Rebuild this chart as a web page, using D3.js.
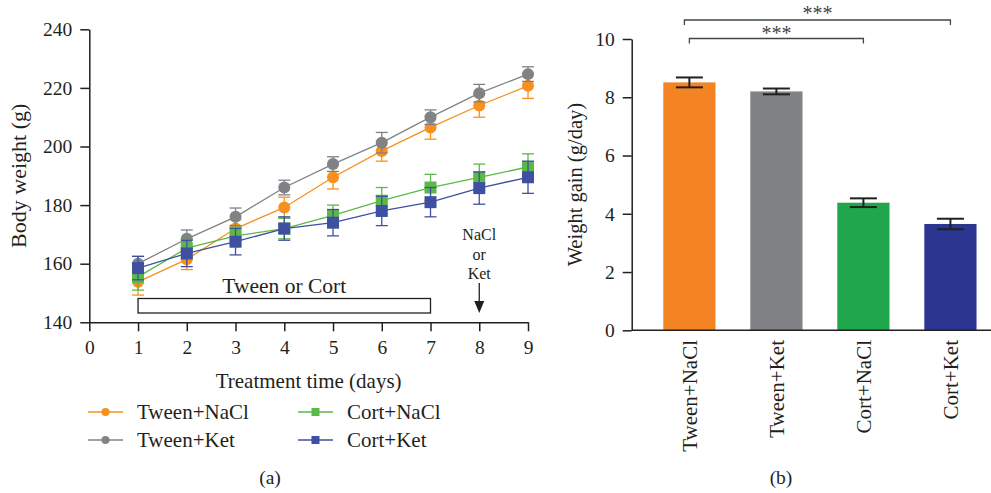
<!DOCTYPE html>
<html>
<head>
  <meta charset="UTF-8">
  <script src="https://d3js.org/d3.v7.js"></script>
  <style>
    body { margin: 0; background: #fff; }
    text { font-family: "Liberation Serif", "DejaVu Serif", serif; fill: #231f20; }
  </style>
</head>
<body>
  <div id="chart"></div>
  <script>
    // data - panel (a)
    const days = [1, 2, 3, 4, 5, 6, 7, 8, 9];
    const tweenNaCl = [153.8, 161.5, 172, 179.2, 189.5, 198.5, 206.5, 214, 220.7];
    const tweenNaClErr = [4.5, 3.5, 3, 3.5, 4, 3.5, 4, 4, 4.3];
    const tweenKet = [160, 168.5, 176, 186, 194, 201.3, 210, 218.2, 224.7];
    const tweenKetErr = [2.5, 3, 3, 2.5, 2.5, 3.5, 2.5, 3, 2.5];
    const cortNaCl = [155.5, 165.3, 169.5, 172, 176.5, 181.5, 186, 189.5, 193];
    const cortNaClErr = [4.5, 3, 3, 3.5, 3.5, 4.5, 4.5, 4.5, 4.5];
    const cortKet = [158.5, 163.5, 167.5, 172, 174, 178, 181, 185.8, 189.5];
    const cortKetErr = [4, 4.5, 4.5, 4, 4.5, 5, 5, 5.5, 5.5];
    const xTicksA = [0, 1, 2, 3, 4, 5, 6, 7, 8, 9];
    const yTicksA = [140, 160, 180, 200, 220, 240];

    // data - panel (b)
    const groups = ["Tween+NaCl", "Tween+Ket", "Cort+NaCl", "Cort+Ket"];
    const gain = [8.51, 8.2, 4.38, 3.65];
    const gainErr = [0.17, 0.1, 0.15, 0.18];
    const yTicksB = [0, 2, 4, 6, 8, 10];

    const lineColors = ["#f7901e", "#808285", "#5bb947", "#3f50a2"];
    const barColors = ["#f48423", "#808285", "#20a64d", "#2c3590"];
    const ink = "#231f20";

    const svg = d3.select('#chart')
      .append('svg')
        .attr('width', 991)
        .attr('height', 493);

    // ---------- panel (a) ----------
    const xA = d3.scaleLinear().domain([0, 9]).range([89.3, 528]);
    const yA = d3.scaleLinear().domain([140, 240]).range([322.3, 29.3]);

    const gA = svg.append('g');

    gA.append('g')
        .attr('transform', `translate(${xA(0)},0)`)
        .call(d3.axisLeft(yA).tickValues(yTicksA).tickSize(9).tickPadding(8).tickSizeOuter(0))
        .call(g => g.selectAll('text').style('font-size', '19.5px'));

    gA.append('g')
        .attr('transform', `translate(0,${yA(140)})`)
        .call(d3.axisBottom(xA).tickValues(xTicksA).tickSize(9).tickPadding(9).tickSizeOuter(0))
        .call(g => g.selectAll('text').style('font-size', '19.5px'));

    gA.selectAll('.domain, .tick line').attr('stroke', ink).attr('stroke-width', 1.5);

    // treatment bar
    gA.append('rect')
        .attr('x', xA(1)).attr('y', 298.5)
        .attr('width', xA(7) - xA(1)).attr('height', 14.5)
        .attr('fill', 'none').attr('stroke', ink).attr('stroke-width', 1.3);
    gA.append('text')
        .attr('x', xA(4)).attr('y', 293)
        .attr('text-anchor', 'middle').style('font-size', '21.5px')
        .text('Tween or Cort');

    // NaCl or Ket arrow
    const noteLines = ["NaCl", "or", "Ket"];
    gA.selectAll('.note').data(noteLines).join('text')
        .attr('class', 'note')
        .attr('x', xA(8)).attr('y', (d, i) => 240 + i * 19.5)
        .attr('text-anchor', 'middle').style('font-size', '16px')
        .text(d => d);
    gA.append('line')
        .attr('x1', xA(8)).attr('x2', xA(8)).attr('y1', 283).attr('y2', 302)
        .attr('stroke', ink).attr('stroke-width', 1.3);
    gA.append('path')
        .attr('d', `M${xA(8) - 5},301 L${xA(8) + 5},301 L${xA(8)},313 Z`)
        .attr('fill', ink);

    const series = [
      { name: "Tween+NaCl", vals: tweenNaCl, err: tweenNaClErr, shape: 'circle' },
      { name: "Tween+Ket", vals: tweenKet, err: tweenKetErr, shape: 'circle' },
      { name: "Cort+NaCl", vals: cortNaCl, err: cortNaClErr, shape: 'square' },
      { name: "Cort+Ket", vals: cortKet, err: cortKetErr, shape: 'square' }
    ];

    const line = d3.line().x((d, i) => xA(days[i])).y(d => yA(d));

    series.forEach((s, k) => {
      const c = lineColors[k];
      const g = gA.append('g');
      // error bars
      s.vals.forEach((v, i) => {
        const x = xA(days[i]);
        g.append('line').attr('x1', x).attr('x2', x)
          .attr('y1', yA(v - s.err[i])).attr('y2', yA(v + s.err[i]))
          .attr('stroke', c).attr('stroke-width', 1.3);
        [v - s.err[i], v + s.err[i]].forEach(e => {
          g.append('line').attr('x1', x - 6).attr('x2', x + 6)
            .attr('y1', yA(e)).attr('y2', yA(e))
            .attr('stroke', c).attr('stroke-width', 1.3);
        });
      });
      g.append('path').datum(s.vals)
        .attr('d', line).attr('fill', 'none')
        .attr('stroke', c).attr('stroke-width', 1.3);
      if (s.shape === 'circle') {
        g.selectAll('circle').data(s.vals).join('circle')
          .attr('cx', (d, i) => xA(days[i])).attr('cy', d => yA(d))
          .attr('r', 6).attr('fill', c);
      } else {
        g.selectAll('rect').data(s.vals).join('rect')
          .attr('x', (d, i) => xA(days[i]) - 6).attr('y', d => yA(d) - 6)
          .attr('width', 12).attr('height', 12).attr('fill', c);
      }
    });

    gA.append('text')
        .attr('transform', `translate(26,${(yA(140) + yA(240)) / 2}) rotate(-90)`)
        .attr('text-anchor', 'middle').style('font-size', '22px')
        .text('Body weight (g)');
    gA.append('text')
        .attr('x', (xA(0) + xA(9)) / 2).attr('y', 388)
        .attr('text-anchor', 'middle').style('font-size', '21px')
        .text('Treatment time (days)');

    // legend
    const legPos = [[88, 412], [88, 440], [298, 412], [298, 440]];
    series.forEach((s, k) => {
      const [lx, ly] = legPos[k];
      const g = gA.append('g').attr('transform', `translate(${lx},${ly})`);
      g.append('line').attr('x1', 0).attr('x2', 35).attr('y1', 0).attr('y2', 0)
        .attr('stroke', lineColors[k]).attr('stroke-width', 1.5);
      if (s.shape === 'circle') {
        g.append('circle').attr('cx', 17.5).attr('cy', 0).attr('r', 4).attr('fill', lineColors[k]);
      } else {
        g.append('rect').attr('x', 13.5).attr('y', -4).attr('width', 8).attr('height', 8).attr('fill', lineColors[k]);
      }
      g.append('text').attr('x', 49).attr('y', 7).style('font-size', '21px').text(s.name);
    });

    gA.append('text')
        .attr('x', 270).attr('y', 484)
        .attr('text-anchor', 'middle').style('font-size', '19.5px')
        .text('(a)');

    // ---------- panel (b) ----------
    const gB = svg.append('g');
    const axisX = 631.7;
    const yB = d3.scaleLinear().domain([0, 10]).range([330.3, 39]);
    const xB = d3.scaleBand().domain(groups)
        .range([axisX, axisX + 376.4]).paddingInner(0.4).paddingOuter(0.363);

    gB.selectAll('.bar').data(groups).join('rect')
        .attr('class', 'bar')
        .attr('x', d => xB(d)).attr('width', xB.bandwidth())
        .attr('y', (d, i) => yB(gain[i])).attr('height', (d, i) => yB(0) - yB(gain[i]))
        .attr('fill', (d, i) => barColors[i]);

    groups.forEach((d, i) => {
      const cx = xB(d) + xB.bandwidth() / 2;
      gB.append('line').attr('x1', cx).attr('x2', cx)
        .attr('y1', yB(gain[i] - gainErr[i])).attr('y2', yB(gain[i] + gainErr[i]))
        .attr('stroke', ink).attr('stroke-width', 2);
      [gain[i] - gainErr[i], gain[i] + gainErr[i]].forEach(e => {
        gB.append('line').attr('x1', cx - 13.5).attr('x2', cx + 13.5)
          .attr('y1', yB(e)).attr('y2', yB(e))
          .attr('stroke', ink).attr('stroke-width', 2);
      });
    });

    gB.append('g')
        .attr('transform', `translate(${axisX},0)`)
        .call(d3.axisLeft(yB).tickValues(yTicksB).tickSize(9).tickPadding(8).tickSizeOuter(0))
        .call(g => g.selectAll('text').style('font-size', '19.5px'));
    gB.append('line')
        .attr('x1', axisX).attr('x2', 991).attr('y1', yB(0)).attr('y2', yB(0))
        .attr('stroke', ink).attr('stroke-width', 1.5);
    gB.selectAll('.domain, .tick line').attr('stroke', ink).attr('stroke-width', 1.5);

    gB.selectAll('.xlab').data(groups).join('text')
        .attr('class', 'xlab')
        .attr('transform', d => `translate(${xB(d) + xB.bandwidth() / 2},340) rotate(-90)`)
        .attr('dy', '0.35em')
        .attr('text-anchor', 'end').style('font-size', '21px')
        .text(d => d);

    gB.append('text')
        .attr('transform', `translate(582,${(yB(0) + yB(10)) / 2}) rotate(-90)`)
        .attr('text-anchor', 'middle').style('font-size', '20.5px')
        .text('Weight gain (g/day)');

    // significance brackets
    const cen = d => xB(d) + xB.bandwidth() / 2;
    const brackets = [
      { a: cen(groups[0]) - 5, b: cen(groups[3]), y: 20, ty: 19.5 },
      { a: cen(groups[0]), b: cen(groups[2]), y: 38.5, ty: 40 }
    ];
    brackets.forEach(br => {
      gB.append('path')
        .attr('d', `M${br.a},${br.y + 5} V${br.y} H${br.b} V${br.y + 5}`)
        .attr('fill', 'none').attr('stroke', '#444').attr('stroke-width', 1.3);
      gB.append('text')
        .attr('x', (br.a + br.b) / 2).attr('y', br.ty)
        .attr('text-anchor', 'middle').style('font-size', '20px').style('fill', '#444')
        .text('***');
    });

    gB.append('text')
        .attr('x', 781).attr('y', 484)
        .attr('text-anchor', 'middle').style('font-size', '19.5px')
        .text('(b)');
  </script>
</body>
</html>
